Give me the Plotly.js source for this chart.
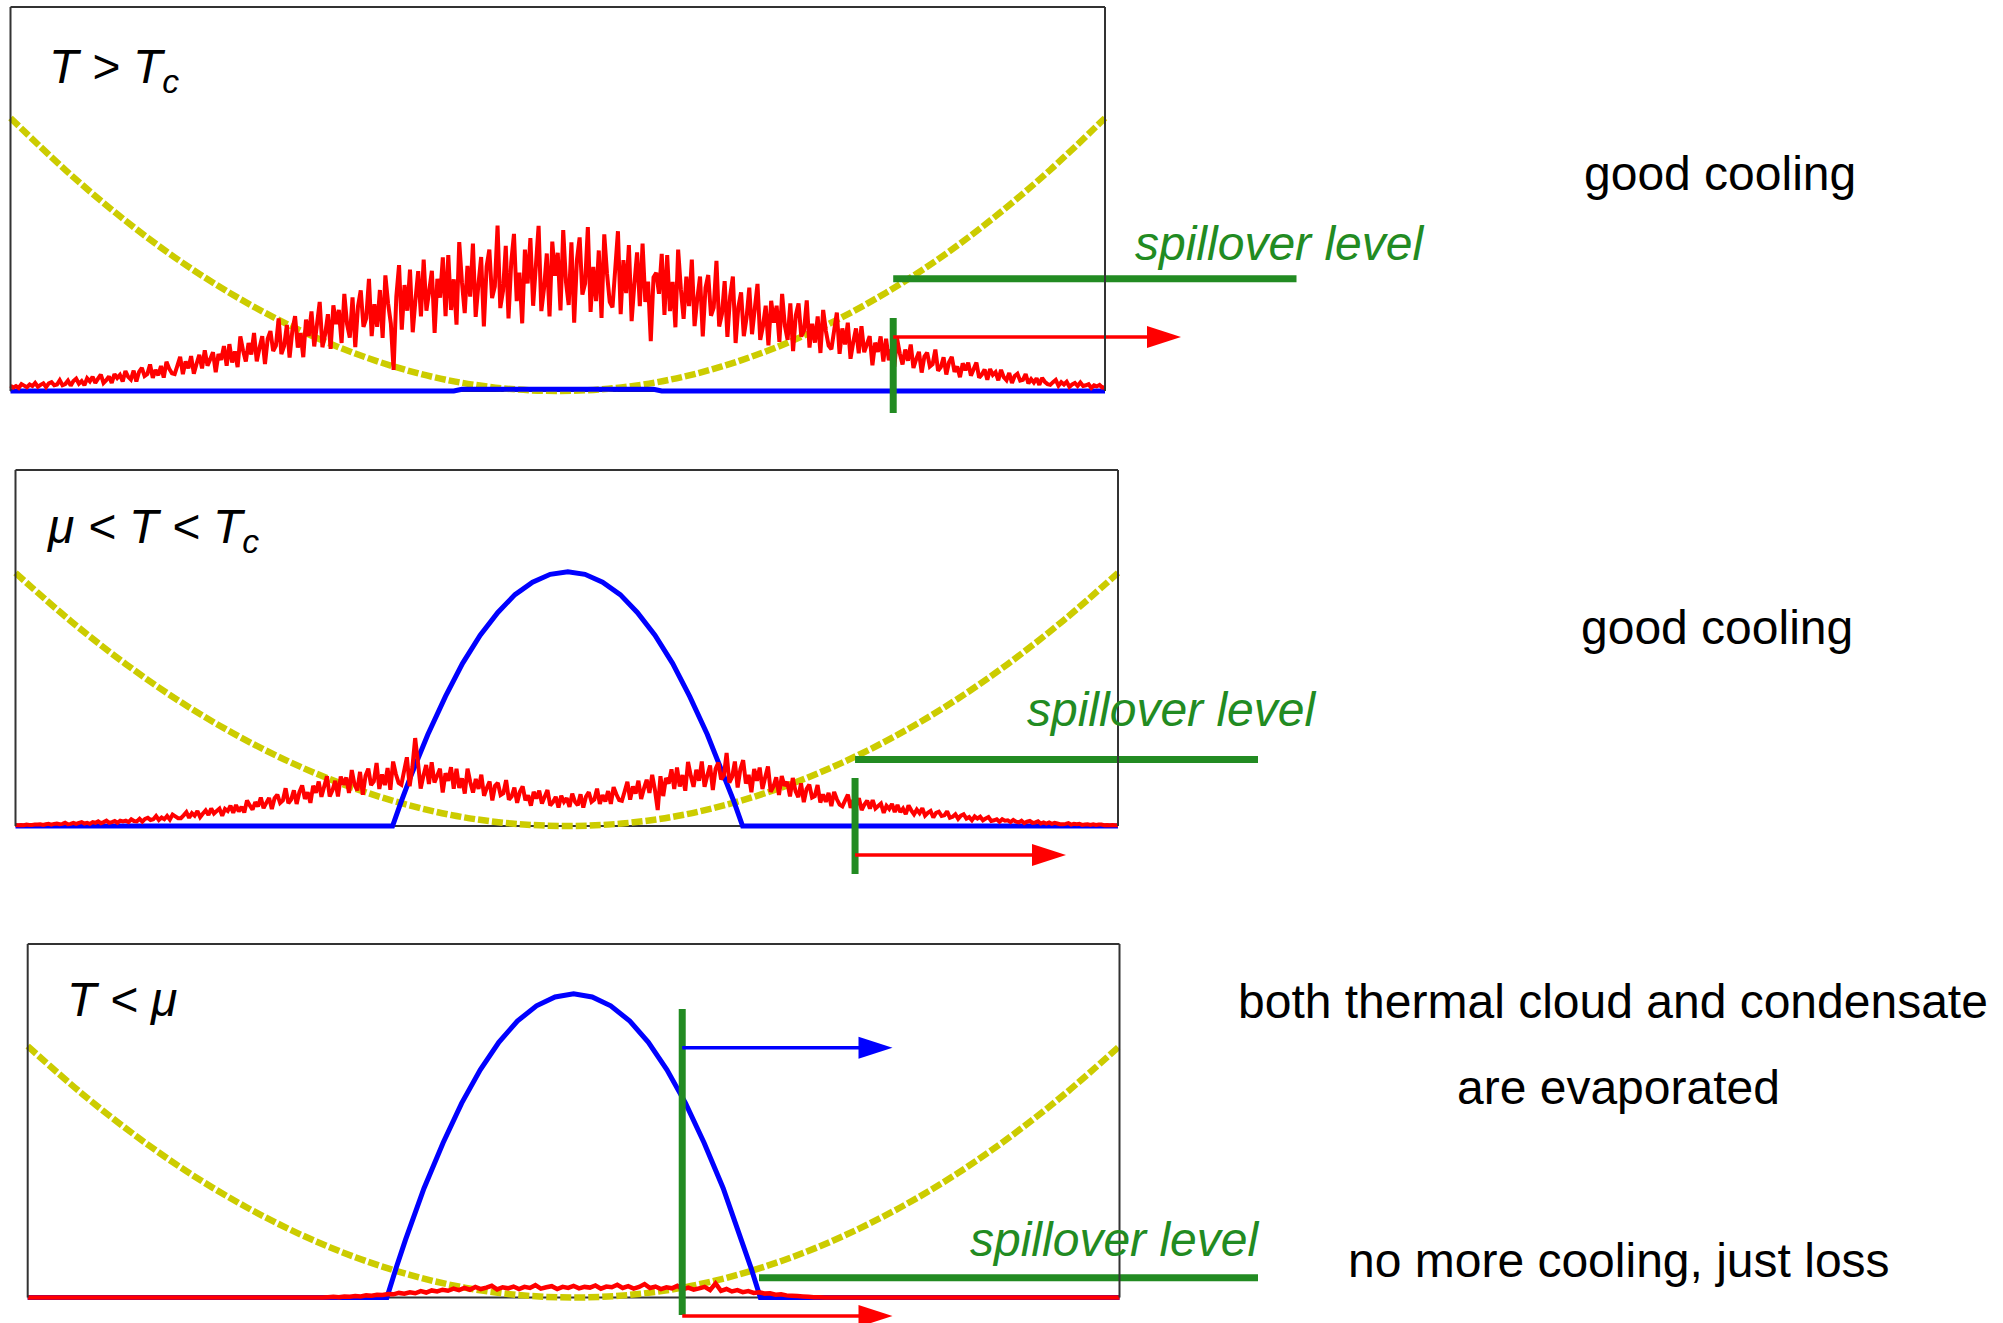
<!DOCTYPE html>
<html>
<head>
<meta charset="utf-8">
<script src="https://cdn.plot.ly/plotly-3.0.1.min.js"></script>
<style>html,body{margin:0;padding:0;background:#fff;overflow:hidden}#chart{width:2003px;height:1323px}</style>
</head>
<body>
<div id="chart"></div>
<script>
// ================= DATA =================
// x is position across the trap (-1 = left wall, +1 = right wall),
// y is height as a fraction of the panel box height.

// trap potential (same in all three panels)
const potentialX = [-1,-0.9,-0.8,-0.7,-0.6,-0.5,-0.4,-0.3,-0.2,-0.1,0,0.1,0.2,0.3,0.4,0.5,0.6,0.7,0.8,0.9,1];
const potentialY = [0.711,0.576,0.455,0.348,0.256,0.178,0.114,0.064,0.028,0.007,0,0.007,0.028,0.064,0.114,0.178,0.256,0.348,0.455,0.576,0.711];

// condensate (blue)
const condHotX  = [-1,-0.19,-0.175,0.175,0.19,1];
const condHotY  = [0,0,0.0045,0.0045,0,0];
const condMidX  = [-1,-0.316,-0.300,-0.284,-0.252,-0.220,-0.189,-0.157,-0.125,-0.094,-0.062,-0.030,0.002,0.033,0.065,0.097,0.128,0.160,0.192,0.223,0.255,0.287,0.303,0.319,1];
const condMidY  = [0,0,0.070,0.136,0.257,0.364,0.457,0.536,0.600,0.650,0.685,0.707,0.714,0.707,0.685,0.650,0.600,0.536,0.457,0.364,0.257,0.136,0.070,0,0];
const condColdX = [-1,-0.342,-0.325,-0.308,-0.274,-0.239,-0.205,-0.171,-0.137,-0.103,-0.068,-0.034,0,0.034,0.068,0.103,0.137,0.171,0.205,0.239,0.274,0.308,0.325,0.342,1];
const condColdY = [0,0,0.084,0.163,0.309,0.438,0.550,0.644,0.722,0.782,0.825,0.850,0.859,0.850,0.825,0.782,0.722,0.644,0.550,0.438,0.309,0.163,0.084,0,0];

// thermal cloud (red), evenly sampled from -1 to 1, per mille of box height
const thermalHot = [
14,9,13,8,18,14,10,17,13,21,11,16,20,10,20,23,15,17,28,15,
18,27,14,26,32,19,26,15,33,25,37,21,32,43,21,28,38,21,44,34,
42,25,52,37,30,53,25,50,60,39,44,69,34,55,41,65,35,76,58,46,
44,66,89,44,77,59,91,45,71,94,59,106,66,83,101,49,96,81,117,66,
122,74,103,62,142,105,77,125,95,151,77,112,143,70,136,156,104,118,189,96,
117,172,87,157,195,113,151,88,186,143,207,116,173,232,114,148,200,110,223,174,
211,125,253,174,139,244,114,221,262,167,189,292,143,226,167,263,138,301,228,176,
55,246,328,160,276,209,316,153,238,312,194,342,209,260,313,151,292,243,348,195,
354,211,291,173,388,282,203,326,246,384,193,277,349,168,324,368,242,272,431,216,
261,378,189,335,409,234,308,176,368,280,398,222,326,430,208,268,358,194,389,300,
360,210,419,284,224,387,178,341,400,251,280,427,206,323,234,366,190,408,306,232,
218,317,416,200,341,255,380,182,279,361,221,384,232,285,130,296,308,253,357,198,
354,208,284,166,368,265,188,298,221,342,169,240,298,142,269,302,196,217,339,168,
200,286,141,247,298,125,219,257,143,191,269,148,214,279,133,169,222,119,235,178,
222,128,253,170,133,228,104,197,228,142,157,236,113,175,126,194,99,211,156,118,
109,157,204,97,163,121,178,84,127,163,98,169,101,122,143,67,126,102,142,77,
136,80,108,63,137,98,69,108,79,121,60,83,102,48,90,100,64,70,108,53,
62,88,43,75,89,50,64,36,72,54,74,40,57,74,35,43,56,29,57,42,
49,28,55,36,28,47,21,39,45,27,29,44,20,31,22,33,16,34,24,18,
16,23,29,14,23,17,24,11,17,21,13,22,13,15,18,8,15,12,16,9,
10];
const thermalMid = [
3,2,3,2,4,3,3,4,4,5,3,5,6,4,6,7,5,6,9,5,
6,9,6,9,11,7,9,6,11,9,13,8,11,15,9,11,14,9,15,13,
15,11,19,14,13,20,12,20,23,17,19,28,17,24,19,28,18,32,27,22,
22,30,39,23,36,29,42,25,35,44,31,49,35,42,49,29,48,42,57,37,
59,41,54,38,72,58,46,67,55,80,50,65,79,48,78,88,65,72,106,64,
74,100,62,95,114,76,95,65,113,93,125,82,111,140,83,100,127,83,139,116,
136,93,157,117,100,152,88,141,161,115,125,177,104,145,115,163,102,181,146,121,
116,155,193,112,166,247,180,105,141,171,118,179,122,141,161,94,148,127,165,105,
161,107,134,91,161,123,94,132,104,144,85,107,125,72,113,121,87,92,129,74,
83,108,65,96,111,72,86,57,96,77,99,63,82,101,58,67,82,52,85,68,
78,54,91,68,58,89,52,83,95,68,74,105,62,87,69,98,62,109,89,73,
71,97,124,74,111,91,127,76,105,130,93,144,101,45,140,84,135,119,159,104,
164,111,143,99,180,141,110,158,127,181,110,142,170,101,161,178,131,142,205,122,
138,181,108,160,185,119,144,95,160,127,164,104,137,167,96,111,137,87,140,113,
124,83,135,98,81,120,67,104,116,80,84,115,66,89,68,93,56,96,75,60,
55,72,88,51,73,58,78,45,60,71,49,73,49,56,63,37,57,48,62,39,
59,39,49,33,58,44,33,46,36,50,29,37,42,24,37,40,28,30,41,23,
26,33,20,29,33,21,25,16,27,21,26,16,21,25,14,16,19,12,19,15,
16,11,17,12,10,15,8,12,14,9,10,13,7,10,7,10,6,9,7,5,
5,6,8,4,6,5,6,3,4,5,3,5,3,4,4,2,3,2,3,2,
2];
const thermalCold = [
0,0,0,0,0,0,0,0,0,0,
0,0,0,0,0,0,0,0,0,0,
0,0,0,0,0,0,0,0,0,0,
0,0,0,0,0,0,0,0,0,0,
0,0,0,0,0,0,0,0,0,0,
0,0,0,0,0,1,2,1,3,2,
4,3,6,5,8,7,10,9,13,11,
15,12,18,14,20,17,22,19,25,21,
27,22,30,24,28,33,23,29,26,31,
24,30,27,35,25,29,32,24,30,27,
33,26,30,28,34,25,31,29,36,27,
32,25,30,38,27,31,24,29,26,33,
23,28,22,26,30,21,40,19,24,17,
21,15,18,13,15,11,12,8,9,6,
5,4,3,2,1,1,0,0,0,0,
0,0,0,0,0,0,0,0,0,0,
0,0,0,0,0,0,0,0,0,0,
0,0,0,0,0,0,0,0,0,0,
0,0,0,0,0,0,0,0,0,0,
0,0,0,0,0,0,0,0,0,0,
0];

// spillover (evaporation) level and where it cuts the cloud, per panel
const spillLevel = [0.292, 0.187, 0.056];
const spillCutX  = [0.613, 0.523, 0.199];

// texts
const panelLabels = ['<i>T &gt; T<sub>c</sub></i>', '<i>μ &lt; T &lt; T<sub>c</sub></i>', '<i>T &lt; μ</i>'];
const spillText = '<i>spillover level</i>';
const commentLines = ['good cooling', 'good cooling', 'both thermal cloud and condensate', 'are evaporated', 'no more cooling, just loss'];

// ================= LAYOUT GEOMETRY =================
const W = 2003, H = 1323;
const boxes = [
  {L: 10.5, R: 1105, T: 7,   B: 391},
  {L: 15.5, R: 1118, T: 470, B: 826},
  {L: 27.7, R: 1119.5, T: 944, B: 1297.5}
];
const G = boxes.map(b => ({C: (b.L + b.R) / 2, hw: (b.R - b.L) / 2, h: b.B - b.T, B: b.B}));
const ux = (k, px) => (px - G[k].C) / G[k].hw;
const uy = (k, py) => (G[k].B - py) / G[k].h;
const AX = [{x: 'x', y: 'y'}, {x: 'x2', y: 'y2'}, {x: 'x3', y: 'y3'}];

const FONT = 'Liberation Sans, Arial, Helvetica, sans-serif';
const YELLOW = '#cccc00', BLUE = '#0000ff', RED = '#ff0000', GREEN = '#228b22', BOX = '#333333';

const thermal = [thermalHot, thermalMid, thermalCold];
const condX = [condHotX, condMidX, condColdX];
const condY = [condHotY, condMidY, condColdY];

const traces = [];
for (let k = 0; k < 3; k++) {
  const a = AX[k];
  const n = thermal[k].length;
  const xs = thermal[k].map((_, i) => -1 + 2 * i / (n - 1));
  traces.push({x: potentialX, y: potentialY, xaxis: a.x, yaxis: a.y, type: 'scatter', mode: 'lines',
    line: {color: YELLOW, width: 6.5, dash: '11px,3px', shape: 'spline'}, hoverinfo: 'skip', showlegend: false});
  traces.push({x: condX[k], y: condY[k], xaxis: a.x, yaxis: a.y, type: 'scatter', mode: 'lines',
    line: {color: BLUE, width: 5}, hoverinfo: 'skip', showlegend: false});
  traces.push({x: xs, y: thermal[k].map(v => v / 1000), xaxis: a.x, yaxis: a.y, type: 'scatter', mode: 'lines',
    line: {color: RED, width: k === 2 ? 4.5 : 4, simplify: false}, hoverinfo: 'skip', showlegend: false});
}

const shapes = [];
function seg(k, x0, y0, x1, y1, color, width, layer) {
  shapes.push({type: 'line', xref: AX[k].x, yref: AX[k].y, x0, y0, x1, y1, line: {color, width}, layer: layer || 'above'});
}
function head(k, xTip, y, color) {
  shapes.push({type: 'path', xref: AX[k].x, yref: AX[k].y, xsizemode: 'pixel', ysizemode: 'pixel',
    xanchor: xTip, yanchor: y, path: 'M0,0 L-34,11 L-34,-11 Z', fillcolor: color, line: {color: color, width: 0}, layer: 'above'});
}
// box bottoms (under the curves)
for (let k = 0; k < 3; k++) seg(k, -1, 0, 1, 0, BOX, 2, 'below');

// panel 1
seg(0, spillCutX[0], uy(0, 413), spillCutX[0], uy(0, 318), GREEN, 7);
seg(0, spillCutX[0], spillLevel[0], ux(0, 1296.5), spillLevel[0], GREEN, 7);
seg(0, spillCutX[0], uy(0, 337), ux(0, 1160), uy(0, 337), RED, 3.5);
head(0, ux(0, 1181), uy(0, 337), RED);
// panel 2
seg(1, spillCutX[1], uy(1, 874), spillCutX[1], uy(1, 778), GREEN, 7);
seg(1, spillCutX[1], spillLevel[1], ux(1, 1258), spillLevel[1], GREEN, 7);
seg(1, spillCutX[1], uy(1, 855), ux(1, 1045), uy(1, 855), RED, 3.5);
head(1, ux(1, 1066), uy(1, 855), RED);
// panel 3
seg(2, spillCutX[2], uy(2, 1315), spillCutX[2], uy(2, 1009), GREEN, 7);
seg(2, ux(2, 759), spillLevel[2], ux(2, 1258), spillLevel[2], GREEN, 7);
seg(2, spillCutX[2], uy(2, 1047.7), ux(2, 872), uy(2, 1047.7), BLUE, 3.5);
head(2, ux(2, 892.5), uy(2, 1047.7), BLUE);
seg(2, spillCutX[2], uy(2, 1316), ux(2, 872), uy(2, 1316), RED, 3.5);
head(2, ux(2, 892.5), uy(2, 1316), RED);

// box left/top/right (drawn on top)
for (let k = 0; k < 3; k++) {
  seg(k, -1, 0, -1, 1, BOX, 2);
  seg(k, -1, 1, 1, 1, BOX, 2);
  seg(k, 1, 0, 1, 1, BOX, 2);
}

const px = v => v / W, py = v => 1 - v / H;
const annotations = [];
function txt(x, yTop, text, color, anchor) {
  annotations.push({xref: 'paper', yref: 'paper', x: px(x), y: py(yTop), text, showarrow: false,
    xanchor: anchor, yanchor: 'top', borderpad: 0, borderwidth: 0,
    font: {family: FONT, size: 48, color: color}});
}
txt(49, 40, panelLabels[0], '#000', 'left');
txt(46, 500, panelLabels[1], '#000', 'left');
txt(67, 973, panelLabels[2], '#000', 'left');
txt(1135, 217, spillText, GREEN, 'left');
txt(1027, 683, spillText, GREEN, 'left');
txt(970, 1213, spillText, GREEN, 'left');
txt(1719.5, 147, commentLines[0], '#000', 'center');
txt(1716.5, 601, commentLines[1], '#000', 'center');
txt(1612.5, 975, commentLines[2], '#000', 'center');
txt(1618.5, 1061, commentLines[3], '#000', 'center');
txt(1619, 1234, commentLines[4], '#000', 'center');

const layout = {
  width: W, height: H,
  margin: {l: 0, r: 0, t: 0, b: 0, pad: 0},
  paper_bgcolor: '#ffffff', plot_bgcolor: 'rgba(0,0,0,0)',
  showlegend: false, hovermode: false,
  shapes, annotations
};
for (let k = 0; k < 3; k++) {
  const xn = k === 0 ? 'xaxis' : 'xaxis' + (k + 1);
  const yn = k === 0 ? 'yaxis' : 'yaxis' + (k + 1);
  layout[xn] = {domain: [0, 1], range: [ux(k, 0), ux(k, W)], visible: false, fixedrange: true, anchor: AX[k].y};
  layout[yn] = {domain: [0, 1], range: [uy(k, H), uy(k, 0)], visible: false, fixedrange: true, anchor: AX[k].x};
}

Plotly.newPlot('chart', traces, layout, {staticPlot: true, displayModeBar: false});
</script>
</body>
</html>
